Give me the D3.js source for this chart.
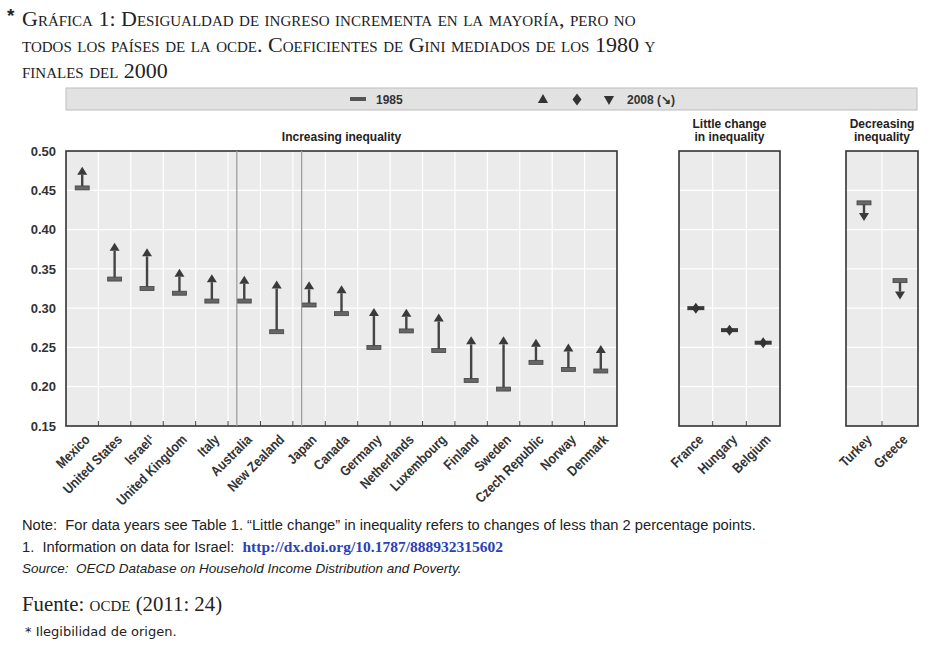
<!DOCTYPE html>
<html>
<head>
<meta charset="utf-8">
<title>Gini</title>
<script src="https://d3js.org/d3.v7.min.js"></script>
<style>
body { margin:0; background:#fff; }
svg text { font-family: "Liberation Sans Narrow", "Liberation Sans", Arial, sans-serif; white-space: pre; }
.ttl { font-family: "Liberation Serif", "DejaVu Serif", serif !important; font-variant: small-caps; font-size:22px; fill:#222; }
.note { font-family: "Liberation Sans", Arial, sans-serif !important; font-size:14.7px; fill:#222; }
</style>
</head>
<body>
<script>
// data
var incCountries = ["Mexico","United States","Israel¹","United Kingdom","Italy","Australia","New Zealand","Japan","Canada","Germany","Netherlands","Luxembourg","Finland","Sweden","Czech Republic","Norway","Denmark"];
var inc1985 = [0.453,0.337,0.325,0.319,0.309,0.309,0.270,0.304,0.293,0.250,0.271,0.246,0.208,0.197,0.231,0.222,0.220];
var inc2008 = [0.475,0.378,0.371,0.345,0.338,0.336,0.330,0.329,0.324,0.295,0.294,0.288,0.259,0.259,0.256,0.250,0.248];
var smallCountries = ["France","Hungary","Belgium"];
var small1985 = [0.300,0.272,0.256];
var small2008 = [0.300,0.272,0.256];
var decCountries = ["Turkey","Greece"];
var dec1985 = [0.434,0.335];
var dec2008 = [0.416,0.316];
var yTicks = [0.15,0.20,0.25,0.30,0.35,0.40,0.45,0.50];

var W = 942, H = 650;
var svg = d3.select("body").append("svg").attr("width", W).attr("height", H);

// title
var titleLines = ["Gráfica 1: Desigualdad de ingreso incrementa en la mayoría, pero no",
  "todos los países de la ocde. Coeficientes de Gini mediados de los 1980 y",
  "finales del 2000"];
svg.append("text").attr("x", 7).attr("y", 22).text("*")
  .style("font-family","Liberation Sans, Arial").style("font-size","19px").style("font-weight","bold").attr("fill","#222");
svg.selectAll(".ttl").data(titleLines).enter().append("text")
  .attr("class","ttl").attr("x", 22).attr("y", function(d,i){ return 26 + i*26; })
  .text(function(d){ return d; });

var y = d3.scaleLinear().domain([0.15, 0.50]).range([426, 151]);

// legend bar
svg.append("rect").attr("x", 66).attr("y", 88).attr("width", 851).attr("height", 22)
  .attr("fill", "#e2e2e2").attr("stroke", "#bdbdbd");
svg.append("rect").attr("x", 350).attr("y", 97).attr("width", 16).attr("height", 4).attr("fill", "#555");
svg.append("text").attr("x", 376).attr("y", 104).text("1985").style("font-size","12px").style("font-weight","bold").attr("fill","#333");
svg.append("path").attr("d", d3.symbol(d3.symbolTriangle, 45)()).attr("transform","translate(543,100)").attr("fill","#333");
svg.append("path").attr("d", "M0,-6L4.5,0L0,6L-4.5,0Z").attr("transform","translate(577,99.5)").attr("fill","#333");
svg.append("path").attr("d", d3.symbol(d3.symbolTriangle, 45)()).attr("transform","translate(609,99) rotate(180)").attr("fill","#333");
svg.append("text").attr("x", 627).attr("y", 104).text("2008 (↘)").style("font-size","12px").style("font-weight","bold").attr("fill","#333");

function panel(x0, x1, names, v85, v08, title, kind) {
  var x = d3.scaleBand().domain(names).range([x0, x1]);
  var g = svg.append("g");
  g.append("rect").attr("x", x0).attr("y", y(0.50)).attr("width", x1 - x0).attr("height", y(0.15) - y(0.50))
    .attr("fill", "#ebebeb");
  // grid
  g.selectAll(".hg").data(yTicks.slice(1, -1)).enter().append("line")
    .attr("x1", x0).attr("x2", x1).attr("y1", function(d){ return y(d); }).attr("y2", function(d){ return y(d); })
    .attr("stroke", "#fff").attr("stroke-width", 1.2);
  g.selectAll(".vg").data(names.slice(1)).enter().append("line")
    .attr("x1", function(d){ return x(d); }).attr("x2", function(d){ return x(d); })
    .attr("y1", y(0.50)).attr("y2", y(0.15)).attr("stroke", "#fff").attr("stroke-width", 1.2);
  // ticks at the bottom, pointing inwards
  g.selectAll(".tk").data(names.slice(1)).enter().append("line")
    .attr("x1", function(d){ return x(d); }).attr("x2", function(d){ return x(d); })
    .attr("y1", y(0.15) - 5).attr("y2", y(0.15)).attr("stroke", "#444");
  g.append("rect").attr("x", x0).attr("y", y(0.50)).attr("width", x1 - x0).attr("height", y(0.15) - y(0.50))
    .attr("fill", "none").attr("stroke", "#333").attr("stroke-width", 1.6);

  var bw = x.bandwidth();
  names.forEach(function(n, i) {
    var cx = x(n) + bw / 2;
    if (kind === "same") {
      g.append("rect").attr("x", cx - 8.5).attr("y", y(v85[i]) - 2).attr("width", 17).attr("height", 4).attr("fill", "#3a3a3a");
      g.append("path").attr("d", "M0,-5.5L4,0L0,5.5L-4,0Z").attr("transform", "translate(" + cx + "," + y(v08[i]) + ")").attr("fill", "#333");
      return;
    }
    var up = v08[i] > v85[i];
    var tip = y(v08[i]) + (up ? -4 : 4);
    var head = up ? tip + 8 : tip - 8;
    g.append("line").attr("x1", cx).attr("x2", cx).attr("y1", y(v85[i])).attr("y2", head)
      .attr("stroke", "#444").attr("stroke-width", 2.4);
    g.append("path").attr("d", "M" + (cx - 5) + "," + head + "L" + (cx + 5) + "," + head + "L" + cx + "," + tip + "Z")
      .attr("fill", "#3a3a3a");
    g.append("rect").attr("x", cx - 7).attr("y", y(v85[i]) - 2).attr("width", 14).attr("height", 4)
      .attr("fill", "#666").attr("stroke", "#444").attr("stroke-width", 0.8);
  });

  // category labels (narrow bold, rotated)
  g.selectAll(".cl").data(names).enter().append("text")
    .attr("transform", function(d){ return "translate(" + (x(d) + bw / 2 + 5) + "," + (y(0.15) + 11) + ") rotate(-45) scale(0.86,1)"; })
    .attr("text-anchor", "end").attr("dy", "0.35em")
    .style("font-size", "14px").style("font-weight", "bold").attr("fill", "#333")
    .text(function(d){ return d; });

  // panel title
  var tl = title.split("\n");
  g.selectAll(".pt").data(tl).enter().append("text")
    .attr("x", (x0 + x1) / 2).attr("y", function(d, i){ return y(0.50) - 10 - (tl.length - 1 - i) * 13; })
    .attr("text-anchor", "middle").style("font-size", "12px").style("font-weight", "bold").attr("fill", "#222")
    .text(function(d){ return d; });
  return x;
}

var xi = panel(66, 617, incCountries, inc1985, inc2008, "Increasing inequality", "inc");
panel(679, 780, smallCountries, small1985, small2008, "Little change\nin inequality", "same");
panel(846, 918, decCountries, dec1985, dec2008, "Decreasing\ninequality", "dec");

// darker separators inside the main panel
["Australia", "Japan"].forEach(function(n) {
  var sx = xi(n) + xi.bandwidth() * 0.27;
  svg.append("line").attr("x1", sx).attr("x2", sx).attr("y1", y(0.50)).attr("y2", y(0.15))
    .attr("stroke", "#999").attr("stroke-width", 1.2);
});

// y axis
var ya = svg.append("g").attr("transform", "translate(66,0)")
  .call(d3.axisLeft(y).tickValues(yTicks).tickFormat(d3.format(".2f")).tickSize(0).tickPadding(10));
ya.select(".domain").remove();
ya.selectAll("text").style("font-size", "13px").style("font-weight", "bold").attr("fill", "#333")
  .style("font-family", "Liberation Sans, Arial, sans-serif");

// notes
svg.append("text").attr("class", "note").attr("x", 22).attr("y", 530)
  .text("Note:  For data years see Table 1. \u201cLittle change\u201d in inequality refers to changes of less than 2 percentage points.");
var l2 = svg.append("text").attr("class", "note").attr("x", 22).attr("y", 552);
l2.append("tspan").text("1.  Information on data for Israel:  ");
l2.append("tspan").text("http://dx.doi.org/10.1787/888932315602")
  .style("font-family", "Liberation Serif, serif").style("font-weight", "bold").style("font-size", "15.5px").attr("fill", "#2b3fb8");
svg.append("text").attr("class", "note").attr("x", 22).attr("y", 573).style("font-style", "italic").style("font-size", "13.5px")
  .text("Source:  OECD Database on Household Income Distribution and Poverty.");
var f = svg.append("text").attr("x", 22).attr("y", 611).style("font-family", "Liberation Serif, serif").style("font-size", "20.8px").attr("fill", "#222");
f.append("tspan").text("Fuente: ");
f.append("tspan").text("ocde").style("font-variant", "small-caps");
f.append("tspan").text(" (2011: 24)");
svg.append("text").attr("x", 25).attr("y", 636).style("font-family", "DejaVu Sans, sans-serif").style("font-size", "13px").attr("fill", "#222")
  .text("* Ilegibilidad de origen.");
</script>
</body>
</html>
